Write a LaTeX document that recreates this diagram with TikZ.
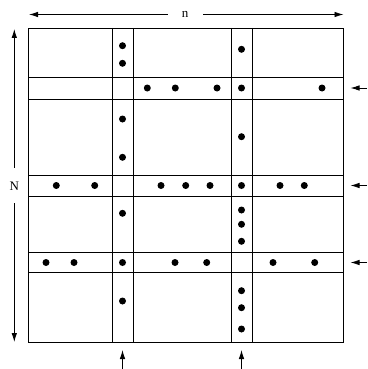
\documentclass[tikz,border=0pt]{standalone}
\usepackage{fontspec}
\setmainfont{Liberation Serif}
\usetikzlibrary{arrows.meta}
\tikzset{
  grid/.style={line width=0.9pt},
  dot/.style={fill=black},
  arr/.style={line width=0.8pt,-{Latex[length=9pt,width=5.5pt]}},
  lab/.style={font=\fontsize{13}{15}\selectfont,inner sep=0pt}
}
\begin{document}
\begin{tikzpicture}[x=1pt,y=-1pt]
\useasboundingbox (0,0) rectangle (367,369);
% outer box
\draw[grid] (28,28) rectangle (343,342);
% vertical strips
\draw[grid] (112,28) -- (112,342);
\draw[grid] (133,28) -- (133,342);
\draw[grid] (231,28) -- (231,342);
\draw[grid] (252,28) -- (252,342);
% horizontal strips
\draw[grid] (28,77.3) -- (343,77.3);
\draw[grid] (28,99.3) -- (343,99.3);
\draw[grid] (28,175.3) -- (343,175.3);
\draw[grid] (28,196.7) -- (343,196.7);
\draw[grid] (28,252) -- (343,252);
\draw[grid] (28,272.3) -- (343,272.3);
% dots in column 1
\foreach \y in {45.7,63.3,119,157.3,213.3,262.5,301}
  \fill[dot] (122.5,\y) circle (3.5);
% dots in column 2
\foreach \y in {49.3,88,136.7,185.5,210,224.3,241.3,290.7,307.7,329}
  \fill[dot] (241.5,\y) circle (3.5);
% dots in row 1
\foreach \x in {147.3,175.3,217,322}
  \fill[dot] (\x,88) circle (3.5);
% dots in row 2
\foreach \x in {56.3,94.7,161,185.7,210,280,304.3}
  \fill[dot] (\x,185.5) circle (3.5);
% dots in row 3
\foreach \x in {46,74,175,206.7,273,314.7}
  \fill[dot] (\x,262.5) circle (3.5);
% labels
\node[lab] (nlab) at (185,14.5) {n};
\node[lab] (Nlab) at (14.3,186) {N};
\coordinate (nL) at (29,14.5);
\coordinate (nR) at (343.5,14.5);
\coordinate (NT) at (14.3,29);
\coordinate (NB) at (14.3,342);
\draw[arr] (nlab.west) ++(-14,0) -- (nL);
\draw[arr] (nlab.east) ++(15,0) -- (nR);
\draw[arr] (Nlab.north) ++(0,-14) -- (NT);
\draw[arr] (Nlab.south) ++(0,13) -- (NB);
% right arrows
\foreach \y/\k in {88/a,185.5/b,262.5/c} {
  \coordinate (rs\k) at (367,\y);
  \coordinate (re\k) at (350.5,\y);
  \draw[arr] (rs\k) -- (re\k);
}
% bottom arrows
\foreach \x/\k in {122.5/a,241.5/b} {
  \coordinate (bs\k) at (\x,369);
  \coordinate (be\k) at (\x,350);
  \draw[arr] (bs\k) -- (be\k);
}
\end{tikzpicture}
\end{document}
